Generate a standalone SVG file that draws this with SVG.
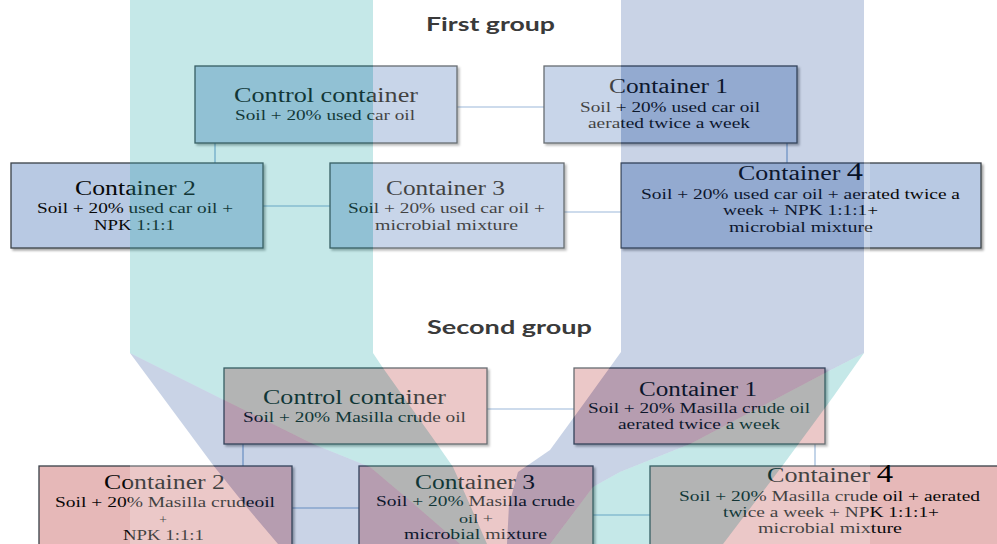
<svg xmlns="http://www.w3.org/2000/svg" width="997" height="544" viewBox="0 0 997 544">
<defs>
<filter id="sh" x="-5%" y="-5%" width="115%" height="125%">
<feDropShadow dx="2" dy="2" stdDeviation="1.3" flood-color="#000" flood-opacity="0.35"/>
</filter>
<clipPath id="boxrows">
<rect x="0" y="58" width="997" height="200"/>
<rect x="0" y="360" width="997" height="184"/>
</clipPath>
<style>
.b1{fill:#b8c9e3;stroke:#3b4148;stroke-width:1.3;filter:url(#sh)}
.b2{fill:#e6b8b8;stroke:#3b4148;stroke-width:1.3;filter:url(#sh)}
.t{font-family:"Liberation Serif","Times New Roman",serif;fill:#080808}
.hd{font-size:20px}
.bd{font-size:15.5px}
.sm{font-size:13.5px}
.grp{font-family:Lato,"Open Sans",sans-serif;font-weight:700;font-size:19px;fill:#3a3a3a}
.cn{stroke:#7fa3cf;stroke-width:1.2;fill:none}
.tl{fill:rgb(48,173,173);fill-opacity:0.28}
.lv{fill:rgb(30,72,151);fill-opacity:0.24}
</style>
</defs>
<rect width="997" height="544" fill="#ffffff"/>

<text class="grp" x="426" y="31" textLength="129" lengthAdjust="spacingAndGlyphs">First group</text>
<text class="grp" x="427" y="334" textLength="165" lengthAdjust="spacingAndGlyphs">Second group</text>

<g id="connectors">
<line class="cn" x1="457" y1="107" x2="544" y2="107"/>
<line class="cn" x1="215" y1="143" x2="215" y2="163"/>
<line class="cn" x1="263" y1="206" x2="330" y2="206"/>
<line class="cn" x1="787" y1="143" x2="787" y2="163"/>
<line class="cn" x1="564" y1="212" x2="621" y2="212"/>
<line class="cn" x1="487" y1="409" x2="574" y2="409"/>
<line class="cn" x1="243" y1="444" x2="243" y2="466"/>
<line class="cn" x1="292" y1="508" x2="359" y2="508"/>
<line class="cn" x1="815" y1="444" x2="815" y2="466"/>
<line class="cn" x1="593" y1="515" x2="650" y2="515"/>
</g>

<g id="g1-control">
<rect class="b1" x="195" y="66" width="262" height="77"/>
<text class="t hd" x="234" y="102" textLength="184" lengthAdjust="spacingAndGlyphs">Control container</text>
<text class="t bd" x="235" y="120" textLength="180" lengthAdjust="spacingAndGlyphs">Soil + 20% used car oil</text>
</g>
<g id="g1-container1">
<rect class="b1" x="544" y="66" width="253" height="77"/>
<text class="t hd" x="609" y="93" textLength="119" lengthAdjust="spacingAndGlyphs">Container 1</text>
<text class="t bd" x="580" y="112" textLength="180" lengthAdjust="spacingAndGlyphs">Soil + 20% used car oil</text>
<text class="t bd" x="588" y="128" textLength="162" lengthAdjust="spacingAndGlyphs">aerated twice a week</text>
</g>
<g id="g1-container2">
<rect class="b1" x="11" y="163" width="252" height="85"/>
<text class="t hd" x="75" y="195" textLength="121" lengthAdjust="spacingAndGlyphs">Container 2</text>
<text class="t bd" x="37" y="213" textLength="196" lengthAdjust="spacingAndGlyphs">Soil + 20% used car oil +</text>
<text class="t bd" x="94" y="230" textLength="81" lengthAdjust="spacingAndGlyphs">NPK 1:1:1</text>
</g>
<g id="g1-container3">
<rect class="b1" x="330" y="163" width="234" height="85"/>
<text class="t hd" x="386" y="195" textLength="119" lengthAdjust="spacingAndGlyphs">Container 3</text>
<text class="t bd" x="348" y="213" textLength="197" lengthAdjust="spacingAndGlyphs">Soil + 20% used car oil +</text>
<text class="t bd" x="375" y="230" textLength="143" lengthAdjust="spacingAndGlyphs">microbial mixture</text>
</g>
<g id="g1-container4">
<rect class="b1" x="621" y="163" width="360" height="85"/>
<text class="t hd" x="738" y="180" textLength="125" lengthAdjust="spacingAndGlyphs">Container <tspan font-size="25" fill="#000">4</tspan></text>
<text class="t bd" x="641" y="199" textLength="319" lengthAdjust="spacingAndGlyphs">Soil + 20% used car oil + aerated twice a</text>
<text class="t bd" x="723" y="215" textLength="155" lengthAdjust="spacingAndGlyphs">week + NPK 1:1:1+</text>
<text class="t bd" x="729" y="232" textLength="144" lengthAdjust="spacingAndGlyphs">microbial mixture</text>
</g>

<g id="g2-control">
<rect class="b2" x="224" y="368" width="263" height="76"/>
<text class="t hd" x="263" y="404" textLength="183" lengthAdjust="spacingAndGlyphs">Control container</text>
<text class="t bd" x="243" y="422" textLength="223" lengthAdjust="spacingAndGlyphs">Soil + 20% Masilla crude oil</text>
</g>
<g id="g2-container1">
<rect class="b2" x="574" y="368" width="251" height="76"/>
<text class="t hd" x="639" y="396" textLength="118" lengthAdjust="spacingAndGlyphs">Container 1</text>
<text class="t bd" x="588" y="413" textLength="222" lengthAdjust="spacingAndGlyphs">Soil + 20% Masilla crude oil</text>
<text class="t bd" x="618" y="429" textLength="162" lengthAdjust="spacingAndGlyphs">aerated twice a week</text>
</g>
<g id="g2-container2">
<rect class="b2" x="39" y="466" width="253" height="95"/>
<text class="t hd" x="104" y="489" textLength="121" lengthAdjust="spacingAndGlyphs">Container 2</text>
<text class="t bd" x="55" y="507" textLength="220" lengthAdjust="spacingAndGlyphs">Soil + 20% Masilla crudeoil</text>
<text class="t sm" x="163" y="524" text-anchor="middle">+</text>
<text class="t bd" x="123" y="540" textLength="81" lengthAdjust="spacingAndGlyphs">NPK 1:1:1</text>
</g>
<g id="g2-container3">
<rect class="b2" x="359" y="466" width="234" height="95"/>
<text class="t hd" x="415" y="489" textLength="120" lengthAdjust="spacingAndGlyphs">Container 3</text>
<text class="t bd" x="376" y="506" textLength="199" lengthAdjust="spacingAndGlyphs">Soil + 20% Masilla crude</text>
<text class="t sm" x="459" y="523" textLength="34" lengthAdjust="spacingAndGlyphs">oil +</text>
<text class="t bd" x="404" y="539" textLength="143" lengthAdjust="spacingAndGlyphs">microbial mixture</text>
</g>
<g id="g2-container4">
<rect class="b2" x="650" y="466" width="360" height="95"/>
<text class="t hd" x="767" y="482" textLength="126" lengthAdjust="spacingAndGlyphs">Container <tspan font-size="25" fill="#000">4</tspan></text>
<text class="t bd" x="679" y="501" textLength="301" lengthAdjust="spacingAndGlyphs">Soil + 20% Masilla crude oil + aerated</text>
<text class="t bd" x="723" y="517" textLength="216" lengthAdjust="spacingAndGlyphs">twice a week + NPK 1:1:1+</text>
<text class="t bd" x="758" y="533" textLength="144" lengthAdjust="spacingAndGlyphs">microbial mixture</text>
</g>

<g id="watermark">
<path clip-path="url(#boxrows)" fill="#ffffff" fill-opacity="0.23" fill-rule="evenodd" d="M130,0H870V544H130Z M130,0 373,0 373,353 383,368 437,444 453,467 470,505 487,544 460,544 415,505 370,467 313,444 224,400 130,353Z M130,353 224,400 313,444 370,467 415,505 460,544 278,544 245,505 213,465Z M621,0 864,0 864,353 825,373 690,444 620,472 593,487 550,544 507,544 509,505 518,472 550,450 585,402 621,352Z M864,353 833,397 783,465 723,544 550,544 593,487 620,472 690,444 825,373Z"/>
<polygon class="tl" points="130,0 373,0 373,353 383,368 437,444 453,467 470,505 487,544 460,544 415,505 370,467 313,444 224,400 130,353"/>
<polygon class="lv" points="130,353 224,400 313,444 370,467 415,505 460,544 278,544 245,505 213,465"/>
<polygon class="lv" points="621,0 864,0 864,353 825,373 690,444 620,472 593,487 550,544 507,544 509,505 518,472 550,450 585,402 621,352"/>
<polygon class="tl" points="864,353 833,397 783,465 723,544 550,544 593,487 620,472 690,444 825,373"/>
</g>
</svg>
